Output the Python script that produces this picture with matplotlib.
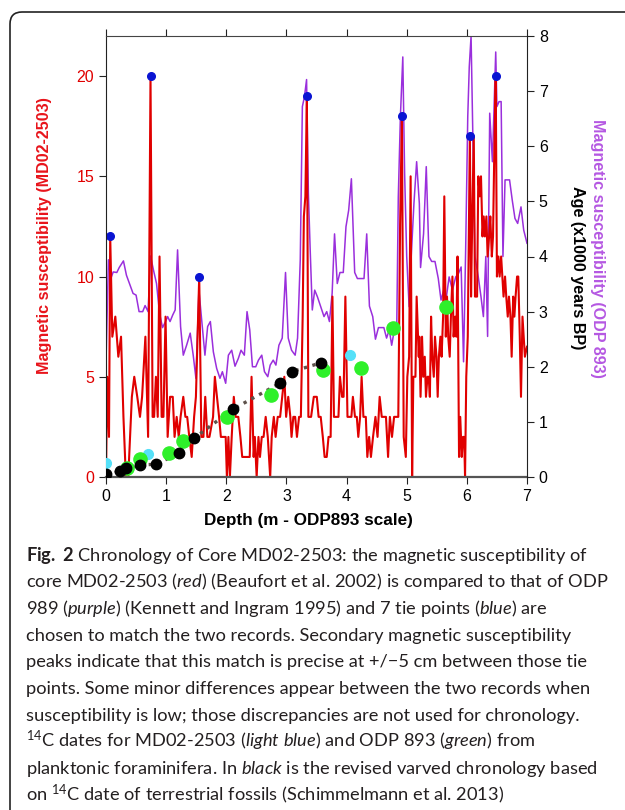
import matplotlib.pyplot as plt
from matplotlib.patches import FancyBboxPatch
from matplotlib.transforms import IdentityTransform

# MD02-2503 magnetic susceptibility (left axis)
depth_md = [0.00, 0.02, 0.05, 0.07, 0.105, 0.155, 0.205, 0.25, 0.29, 0.33, 0.37, 0.43, 0.47,
            0.52, 0.565, 0.60, 0.655, 0.70, 0.74, 0.775, 0.80, 0.83, 0.86, 0.89, 0.925, 0.955,
            0.99, 1.025, 1.065, 1.11, 1.14, 1.175, 1.21, 1.24, 1.285, 1.32, 1.35, 1.385, 1.425,
            1.465, 1.495, 1.55, 1.585, 1.62, 1.65, 1.685, 1.72, 1.78, 1.81, 1.845, 1.88, 1.91,
            1.95, 1.99, 2.01, 2.035, 2.06, 2.09, 2.125, 2.155, 2.20, 2.235, 2.265, 2.31, 2.355,
            2.39, 2.42, 2.455, 2.475, 2.505, 2.535, 2.56, 2.59, 2.62, 2.655, 2.69, 2.73, 2.755,
            2.79, 2.82, 2.855, 2.895, 2.93, 2.965, 2.995, 3.03, 3.065, 3.085, 3.115, 3.145,
            3.175, 3.21, 3.24, 3.27, 3.29, 3.315, 3.34, 3.365, 3.41, 3.455, 3.505, 3.535, 3.57,
            3.605, 3.635, 3.67, 3.70, 3.735, 3.765, 3.79, 3.825, 3.865, 3.89, 3.925, 3.95, 3.98,
            4.015, 4.045, 4.08, 4.105, 4.14, 4.17, 4.195, 4.225, 4.25, 4.28, 4.32, 4.345, 4.375,
            4.405, 4.44, 4.48, 4.515, 4.55, 4.585, 4.62, 4.655, 4.69, 4.72, 4.755, 4.79, 4.82,
            4.86, 4.89, 4.92, 4.95, 4.985, 5.01, 5.04, 5.065, 5.09, 5.11, 5.145, 5.165, 5.20,
            5.21, 5.23, 5.255, 5.275, 5.30, 5.32, 5.345, 5.365, 5.385, 5.405, 5.425, 5.45, 5.47,
            5.495, 5.515, 5.535, 5.56, 5.58, 5.605, 5.625, 5.65, 5.67, 5.69, 5.715, 5.735, 5.76,
            5.78, 5.805, 5.825, 5.845, 5.87, 5.89, 5.915, 5.935, 5.955, 5.97, 5.99, 6.015, 6.05,
            6.07, 6.09, 6.115, 6.135, 6.17, 6.19, 6.215, 6.235, 6.26, 6.28, 6.30, 6.325, 6.345,
            6.37, 6.39, 6.415, 6.435, 6.455, 6.48, 6.50, 6.525, 6.545, 6.57, 6.59, 6.61, 6.635,
            6.655, 6.68, 6.70, 6.725, 6.745, 6.77, 6.79, 6.81, 6.835, 6.855, 6.88, 6.90, 6.925,
            6.945, 6.965, 7.00]
sus_md = [0, 5, 2, 12, 7, 8, 6, 7, 3, 0, 0, 4, 5,
          4, 3, 4, 7, 2, 20, 3, 3, 5, 3, 11, 3, 3,
          8, 2, 4, 4, 2, 3, 2, 3, 4, 3, 3, 2, 1,
          3, 4, 10, 2, 2, 4, 2, 2, 3, 5, 4, 3, 2,
          2, 2, 0, 2, 0, 2, 4, 3, 3, 2, 1, 1, 1,
          1, 5, 1, 2, 0, 2, 1, 2, 2, 3, 2, 0, 2,
          3, 2, 3, 3, 4, 5, 3, 4, 3, 2, 3, 3,
          2, 3, 3, 8, 13, 14, 19, 3, 3, 4, 4, 3, 3,
          2, 1, 1, 2, 2, 9, 3, 3, 3, 5, 4, 4, 9,
          3, 3, 3, 4, 3, 3, 2, 3, 5, 3, 3, 1, 2,
          1, 2, 3, 2, 4, 3, 3, 3, 1, 3, 2, 3, 3,
          3, 12.6, 18, 2, 1, 5, 6, 15, 0, 5, 5, 9, 6,
          7, 4, 7, 5, 6, 4, 5, 5, 4, 8, 6, 5, 7,
          6, 4, 6, 7, 6, 8, 14, 7, 9, 7, 6, 8, 10,
          7, 8, 7, 11, 1, 3, 1, 2, 2, 0, 5, 7, 17,
          9, 13, 17, 9, 9, 15, 14, 15, 12, 13, 12, 13, 11,
          12, 13, 11, 12, 16, 20, 10, 11, 10, 11, 10, 9, 10,
          9, 8, 9, 8, 6, 9, 8, 9, 10, 10, 7, 4, 8,
          7, 6, 6.5]

# ODP 893 magnetic susceptibility (right axis scale)
depth_odp = [0.00, 0.04, 0.08, 0.12, 0.18, 0.22, 0.29, 0.34, 0.40, 0.45, 0.50, 0.55, 0.61,
             0.65, 0.70, 0.74, 0.79, 0.84, 0.89, 0.94, 0.99, 1.025, 1.065, 1.11, 1.15, 1.19,
             1.24, 1.285, 1.34, 1.40, 1.45, 1.495, 1.545, 1.59, 1.645, 1.69, 1.735, 1.785,
             1.84, 1.895, 1.935, 1.99, 2.035, 2.09, 2.145, 2.20, 2.245, 2.30, 2.345, 2.39,
             2.435, 2.49, 2.535, 2.59, 2.635, 2.69, 2.73, 2.78, 2.825, 2.875, 2.93, 2.985,
             3.03, 3.085, 3.145, 3.185, 3.23, 3.265, 3.30, 3.335, 3.365, 3.395, 3.43, 3.47,
             3.515, 3.57, 3.625, 3.67, 3.715, 3.76, 3.80, 3.845, 3.89, 3.945, 3.99, 4.035,
             4.08, 4.135, 4.18, 4.235, 4.29, 4.335, 4.38, 4.435, 4.48, 4.53, 4.585, 4.62,
             4.665, 4.71, 4.75, 4.79, 4.835, 4.86, 4.895, 4.935, 4.965, 5.00, 5.04, 5.075,
             5.12, 5.165, 5.21, 5.23, 5.28, 5.325, 5.37, 5.415, 5.47, 5.525, 5.57, 5.615,
             5.66, 5.705, 5.76, 5.815, 5.86, 5.905, 5.945, 5.98, 6.015, 6.04, 6.07, 6.10,
             6.135, 6.19, 6.235, 6.275, 6.315, 6.345, 6.38, 6.425, 6.455, 6.48, 6.50, 6.535,
             6.57, 6.60, 6.635, 6.68, 6.71, 6.755, 6.80, 6.845, 6.90, 6.945, 7.00]
sus_odp = [2.06, 3.94, 3.60, 3.72, 3.71, 3.80, 3.92, 3.66, 3.48, 3.33, 3.30, 3.00, 3.00,
           3.11, 3.00, 4.01, 3.75, 3.51, 2.97, 2.71, 2.82, 2.91, 2.82, 2.94, 3.03, 4.12,
           2.73, 2.21, 2.39, 2.61, 2.21, 1.79, 3.39, 2.85, 2.21, 2.73, 2.82, 2.27,
           1.97, 1.79, 1.91, 1.70, 2.21, 2.30, 2.01, 2.15, 2.30, 2.21, 3.00, 2.67,
           2.00, 2.00, 2.12, 2.21, 1.91, 1.82, 2.03, 2.12, 2.03, 2.39, 2.52, 3.71,
           2.52, 2.30, 2.21, 2.52, 3.94, 6.72, 6.90, 7.21, 5.15, 4.12, 3.03, 3.39,
           3.27, 3.09, 2.91, 3.00, 2.82, 3.33, 4.41, 3.51, 3.71, 3.71, 4.54, 4.84,
           5.41, 3.71, 3.60, 3.60, 3.60, 4.41, 3.10, 2.91, 2.50, 2.71, 2.71, 2.71,
           2.52, 2.67, 2.39, 2.64, 2.79, 5.08, 6.54, 7.62, 5.51, 4.00, 3.09, 4.00,
           4.96, 5.72, 4.96, 3.80, 4.41, 5.63, 4.00, 3.91, 3.91, 3.60, 3.21, 3.39,
           3.27, 3.63, 3.39, 3.63, 3.69, 3.81, 2.09, 4.12, 6.54, 7.44, 8.00, 6.11,
           4.00, 3.63, 3.27, 2.91, 4.00, 2.55, 6.60, 5.72, 6.84, 7.71, 6.72, 6.81,
           6.81, 4.00, 5.39, 5.39, 5.39, 5.02, 4.69, 4.60, 4.90, 4.48, 4.24]

# tie points between the two records (left axis)
tie_depth = [0.07, 0.74, 1.55, 3.34, 4.92, 6.05, 6.48]
tie_sus = [12, 20, 10, 19, 18, 17, 20]

# 14C ages (x1000 years BP)
c14_md_depth = [0.00, 0.70, 4.06]
c14_md_age = [0.25, 0.41, 2.21]
c14_odp_depth = [0.35, 0.57, 1.05, 1.28, 2.01, 2.74, 3.61, 4.24, 4.78, 5.65]
c14_odp_age = [0.16, 0.33, 0.44, 0.65, 1.09, 1.49, 1.95, 1.97, 2.71, 3.09]
varve_depth = [0.00, 0.24, 0.34, 0.57, 0.83, 1.21, 1.46, 2.11, 2.89, 3.09, 3.57]
varve_age = [0.05, 0.10, 0.16, 0.22, 0.23, 0.43, 0.70, 1.23, 1.70, 1.91, 2.07]

caption_lines = [
    r"$\mathbf{Fig.}$ $\mathbf{2}$ Chronology of Core MD02-2503: the magnetic susceptibility of",
    r"core MD02-2503 ($\mathit{red}$) (Beaufort et al. 2002) is compared to that of ODP",
    r"989 ($\mathit{purple}$) (Kennett and Ingram 1995) and 7 tie points ($\mathit{blue}$) are",
    "chosen to match the two records. Secondary magnetic susceptibility",
    "peaks indicate that this match is precise at +/\u22125 cm between those tie",
    "points. Some minor differences appear between the two records when",
    "susceptibility is low; those discrepancies are not used for chronology.",
    r"$^{\mathrm{14}}$C dates for MD02-2503 ($\mathit{light\ blue}$) and ODP 893 ($\mathit{green}$) from",
    r"planktonic foraminifera. In $\mathit{black}$ is the revised varved chronology based",
    r"on $^{\mathrm{14}}$C date of terrestrial fossils (Schimmelmann et al. 2013)",
]

plt.rcParams['font.family'] = ['Liberation Sans', 'DejaVu Sans']
plt.rcParams['mathtext.fontset'] = 'custom'
plt.rcParams['mathtext.rm'] = 'Lato'
plt.rcParams['mathtext.it'] = 'Lato:italic'
plt.rcParams['mathtext.bf'] = 'Lato:bold'

W, H = 625, 810
fig = plt.figure(figsize=(W / 100, H / 100), dpi=100)

# rounded frame (pixel coords), open to the right and bottom
frame = FancyBboxPatch((10, -30), 700, H - 12 + 30,
                       boxstyle="round,pad=0,rounding_size=12",
                       transform=IdentityTransform(), fill=False,
                       edgecolor='#222222', linewidth=1.2)
fig.patches.append(frame)

rect = [106 / W, 1 - 477 / H, (527 - 106) / W, (477 - 36) / H]
ax = fig.add_axes(rect)
axp = ax.twinx()
axa = ax.twinx()
axp.set_zorder(0)
ax.set_zorder(1)
axa.set_zorder(2)
ax.patch.set_visible(False)
axa.patch.set_visible(False)

# ODP 893 curve underneath
axp.plot(depth_odp, sus_odp, color='#9a2fdc', lw=1.1)
axp.set_ylim(0, 8)
axp.set_yticks([])
for s in axp.spines.values():
    s.set_visible(False)

# MD02-2503 curve with tie points
ax.plot(depth_md, sus_md, color='#e00000', lw=1.5)
ax.plot(tie_depth, tie_sus, 'o', color='#0a14d2', ms=5.5, ls='none')
ax.set_xlim(0, 7)
ax.set_ylim(0, 22)
ax.set_yticks([0, 5, 10, 15, 20])
ax.set_xticks(range(8))
ax.tick_params(axis='y', colors='#222222', labelcolor='#e00000', labelsize=11.5,
               direction='out', length=5)
ax.tick_params(axis='x', top=True, labeltop=False, direction='out', length=5,
               labelsize=11.5, colors='#222222', labelcolor='black')
ax.spines['right'].set_visible(False)
ax.spines['bottom'].set_color('#555555')
ax.spines['bottom'].set_linewidth(1.6)
ax.spines['left'].set_color('#222222')
ax.spines['top'].set_color('#444444')

# age points and varve chronology
axa.plot(varve_depth, varve_age, ls=':', color='#5e524c', lw=2.4, zorder=2)
axa.plot(c14_md_depth, c14_md_age, 'o', color='#55e0f8', ms=7, ls='none', zorder=3)
axa.plot(c14_odp_depth, c14_odp_age, 'o', color='#2ef02a', ms=9.5, ls='none', zorder=3)
axa.plot(varve_depth, varve_age, 'o', color='black', ms=7.5, ls='none', zorder=4)
axa.set_ylim(0, 8)
axa.set_yticks(range(9))
axa.tick_params(axis='y', direction='out', length=5, labelsize=11.5, colors='#222222',
                labelcolor='black')
for side in ['left', 'top', 'bottom']:
    axa.spines[side].set_visible(False)
axa.spines['right'].set_color('#222222')

fig.text(308 / W, 1 - 520 / H, 'Depth (m - ODP893 scale)', ha='center', va='center',
         fontsize=12.3, fontweight='bold')
fig.text(45 / W, 1 - 236 / H, 'Magnetic susceptibility (MD02-2503)', rotation=90,
         ha='center', va='center', fontsize=11.6, fontweight='bold', color='#e8141b')
fig.text(577 / W, 1 - 268 / H, 'Age (x1000 years BP)', rotation=270,
         ha='center', va='center', fontsize=11.6, fontweight='bold', color='black')
fig.text(598 / W, 1 - 248 / H, 'Magnetic susceptibility (ODP 893)', rotation=270,
         ha='center', va='center', fontsize=11.6, fontweight='bold', color='#b558e2')

for i, line in enumerate(caption_lines):
    fig.text(26 / W, 1 - (560.7 + i * 26.67) / H, line, ha='left', va='baseline',
             fontsize=13.15, family='Lato', color='#231f20')

fig.savefig('out.png', dpi=100)
